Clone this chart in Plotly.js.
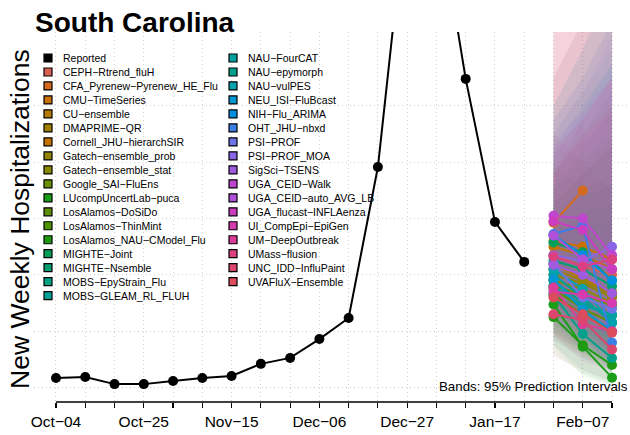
<!DOCTYPE html>
<html><head><meta charset="utf-8">
<script src="https://cdn.plot.ly/plotly-3.0.1.min.js"></script>
<style>html,body{margin:0;padding:0;background:#fff}#chart{width:630px;height:435px}</style>
</head><body><div id="chart"></div>
<script>
// ---------- DATA ----------
const reportedDates = ['2025-10-04','2025-10-11','2025-10-18','2025-10-25','2025-11-01','2025-11-08','2025-11-15','2025-11-22','2025-11-29','2025-12-06','2025-12-13','2025-12-20','2025-12-27','2026-01-03','2026-01-10','2026-01-17','2026-01-24'];
const reportedValues = [34,37,12,12,23,34,41,84,105,172,247,783,1740,1730,1096,588,446];

const forecastDates = ['2026-01-31','2026-02-07','2026-02-14'];

const models = ['CEPH−Rtrend_fluH','CFA_Pyrenew−Pyrenew_HE_Flu','CMU−TimeSeries','CU−ensemble','DMAPRIME−QR','Cornell_JHU−hierarchSIR','Gatech−ensemble_prob','Gatech−ensemble_stat','Google_SAI−FluEns','LUcompUncertLab−puca','LosAlamos−DoSiDo','LosAlamos−ThinMint','LosAlamos_NAU−CModel_Flu','MIGHTE−Joint','MIGHTE−Nsemble','MOBS−EpyStrain_Flu','MOBS−GLEAM_RL_FLUH','NAU−FourCAT','NAU−epymorph','NAU−vulPES','NEU_ISI−FluBcast','NIH−Flu_ARIMA','OHT_JHU−nbxd','PSI−PROF','PSI−PROF_MOA','SigSci−TSENS','UGA_CEID−Walk','UGA_CEID−auto_AVG_LB','UGA_flucast−INFLAenza','UI_CompEpi−EpiGen','UM−DeepOutbreak','UMass−flusion','UNC_IDD−InfluPaint','UVAFluX−Ensemble'];

const modelColors = ['#D9604F','#D46A1E','#C97000','#B57A00','#9E7F00','#C47300','#8F8500','#8A8A00','#6E8F00','#1A9E1A','#5E9000','#4C9400','#1E9A10','#00A05A','#00A070','#00A285','#00A098','#00A0A0','#00A08C','#00A2B0','#0096D2','#008FE0','#3A7FE6','#6E74E8','#8A66E6','#A05AE0','#C046D0','#B050DA','#CC3CC0','#D63AAE','#DA3C98','#DC4080','#DC466C','#DC4C5C'];

// medians per forecast date (Jan-31, Feb-07, Feb-14), one value per model
const medJan31 = [470,585,520,440,420,500,400,380,360,295,350,330,250,515,450,380,400,360,330,420,385,540,545,440,470,435,610,540,590,340,355,465,260,320];
const medFeb07 = [430,700,500,385,380,470,370,350,330,145,280,260,150,480,420,300,320,290,190,350,275,470,575,320,450,400,600,455,560,330,225,430,240,260];
const medFeb14 = [400,null,455,340,330,420,320,300,290,35,230,200,80,380,360,255,230,260,105,230,200,380,160,280,500,335,470,420,420,300,200,455,135,195];

// 95% interval bounds
const loJan31 = [300,400,330,260,250,270,230,240,200,150,180,190,120,300,280,200,220,170,150,250,230,320,280,250,270,240,380,350,370,180,190,290,110,170];
const loFeb07 = [220,420,260,190,170,200,160,170,140,40,110,120,50,220,200,120,130,100,60,150,140,210,200,160,210,190,300,250,290,140,90,220,60,110];
const loFeb14 = [160,null,190,120,100,130,90,110,80,5,60,70,10,130,140,80,60,60,20,70,80,120,40,100,190,120,200,180,200,100,60,190,20,60];
const hiJan31 = [900,760,700,600,650,1300,640,800,700,540,1100,620,560,1000,760,720,900,820,950,650,600,850,1000,950,900,760,1100,880,1350,820,1300,850,1250,760];
const hiFeb07 = [800,950,800,680,760,1500,760,700,850,580,1300,700,620,1200,900,820,1050,980,1100,760,680,1000,1200,1100,1050,880,1300,980,1600,960,1550,950,1500,900];
const hiFeb14 = [700,null,880,720,850,1700,860,650,1000,600,1500,760,650,1400,1050,900,1200,1150,1300,850,720,1150,1500,1300,1250,980,1500,1100,1900,1100,1800,1100,1750,1000];

const xTickStart = '2025-10-04';

// ---------- HELPERS ----------
const W = 630, H = 435, ML = 34, MR = 0, MT = 32, MB = 33;
const PW = W - ML - MR, PH = H - MT - MB;
const px2x = p => (p - ML) / PW;
const py2y = p => (H - MB - p) / PH;
const DAY = 86400000;
function rgba(hex, a){
  const n = parseInt(hex.slice(1),16);
  return `rgba(${(n>>16)&255},${(n>>8)&255},${n&255},${a})`;
}
const FONT = 'Liberation Sans, Arial, Helvetica, sans-serif';
const GRID = '#cfcfcf', GDASH = '1px,3px';

// ---------- TRACES ----------
const traces = [];
const meds = [medJan31, medFeb07, medFeb14];
const los = [loJan31, loFeb07, loFeb14];
const his = [hiJan31, hiFeb07, hiFeb14];

models.forEach((m, i) => {
  const xs = [], lo = [], hi = [];
  forecastDates.forEach((d, k) => {
    if (los[k][i] != null && his[k][i] != null) { xs.push(d); lo.push(los[k][i]); hi.push(his[k][i]); }
  });
  traces.push({
    type: 'scatter', mode: 'lines', x: xs.concat(xs.slice().reverse()),
    y: lo.concat(hi.slice().reverse()), fill: 'toself',
    fillcolor: rgba(modelColors[i], 0.065), line: {width: 0}, hoverinfo: 'skip', showlegend: false
  });
});
models.forEach((m, i) => {
  const xs = [], ys = [];
  forecastDates.forEach((d, k) => { if (meds[k][i] != null) { xs.push(d); ys.push(meds[k][i]); } });
  traces.push({
    type: 'scatter', mode: 'lines+markers', name: m, x: xs, y: ys,
    line: {color: modelColors[i], width: 2}, marker: {color: modelColors[i], size: 10},
    showlegend: false, cliponaxis: true
  });
});
traces.push({
  type: 'scatter', mode: 'lines+markers', name: 'Reported', x: reportedDates, y: reportedValues,
  line: {color: '#000', width: 2}, marker: {color: '#000', size: 10}, showlegend: false, cliponaxis: true
});

// ---------- LEGEND (manual, two columns) ----------
const legendItems = [{name: 'Reported', color: '#000000'}].concat(models.map((m, i) => ({name: m, color: modelColors[i]})));
const annotations = [], shapes = [];
const ROW0 = 58, ROWH = 13.98;
legendItems.forEach((it, idx) => {
  const col = idx < 18 ? 0 : 1;
  const row = col === 0 ? idx : idx - 18;
  const sqx = col === 0 ? 48 : 233;
  const tx = col === 0 ? 62 : 247;
  const cy = ROW0 + row * ROWH;
  shapes.push({type: 'rect', xref: 'paper', yref: 'paper',
    x0: px2x(sqx - 4), x1: px2x(sqx + 4), y0: py2y(cy + 4), y1: py2y(cy - 4),
    fillcolor: it.color, line: {color: '#000', width: 1.2}, layer: 'above'});
  annotations.push({xref: 'paper', yref: 'paper', x: px2x(tx), y: py2y(cy), xanchor: 'left', yanchor: 'middle',
    text: it.name, showarrow: false, font: {family: FONT, size: 10.5, color: '#000'}, borderpad: 0});
});

// axis line from first to last tick
shapes.push({type: 'line', xref: 'x', yref: 'paper', x0: reportedDates[0], x1: forecastDates[forecastDates.length-1],
  y0: 0, y1: 0, line: {color: '#000', width: 1.6}, layer: 'above'});

annotations.push({xref: 'paper', yref: 'paper', x: px2x(20), y: py2y(219), xanchor: 'center', yanchor: 'middle',
  text: 'New Weekly Hospitalizations', textangle: -90, showarrow: false, font: {family: FONT, size: 26.5, color: '#000'}});
annotations.push({xref: 'paper', yref: 'paper', x: px2x(629), y: py2y(386), xanchor: 'right', yanchor: 'middle',
  text: 'Bands: 95% Prediction Intervals', showarrow: false, font: {family: FONT, size: 13.3, color: '#000'}, borderpad: 0});

// ---------- LAYOUT ----------
const x0ms = new Date(reportedDates[0] + 'T00:00:00Z').getTime();
const x1ms = new Date(forecastDates[forecastDates.length-1] + 'T00:00:00Z').getTime();
const layout = {
  width: W, height: H, margin: {l: ML, r: MR, t: MT, b: MB, pad: 0},
  paper_bgcolor: '#fff', plot_bgcolor: '#fff', showlegend: false,
  title: {text: '<b>South Carolina</b>', font: {family: FONT, size: 28, color: '#000'},
    x: 35 / W, xanchor: 'left', xref: 'container', y: 1 - 22.5 / H, yanchor: 'middle', yref: 'container'},
  xaxis: {
    type: 'date',
    range: [new Date(x0ms - 5.26 * DAY).toISOString(), new Date(x1ms + 4.3 * DAY).toISOString()],
    tick0: xTickStart, dtick: 21 * DAY, tickformat: '%b−%d',
    ticks: 'outside', ticklen: 5, tickwidth: 1.2, tickcolor: '#000',
    tickfont: {family: FONT, size: 15.5, color: '#000'},
    showgrid: true, griddash: GDASH, gridcolor: GRID, gridwidth: 1,
    minor: {dtick: 7 * DAY, tick0: xTickStart, ticks: 'outside', ticklen: 5, tickwidth: 1.2, tickcolor: '#000',
      showgrid: true, griddash: GDASH, gridcolor: GRID, gridwidth: 1},
    showline: false, zeroline: false, fixedrange: true
  },
  yaxis: {
    range: [-51.5, 1262.5], tickvals: [0, 200, 400, 600, 800, 1000], showticklabels: false, ticks: '',
    showgrid: true, griddash: GDASH, gridcolor: GRID, gridwidth: 1,
    showline: false, zeroline: false, fixedrange: true
  },
  shapes: shapes, annotations: annotations
};

Plotly.newPlot('chart', traces, layout, {displayModeBar: false, staticPlot: true});
</script>
</body></html>
